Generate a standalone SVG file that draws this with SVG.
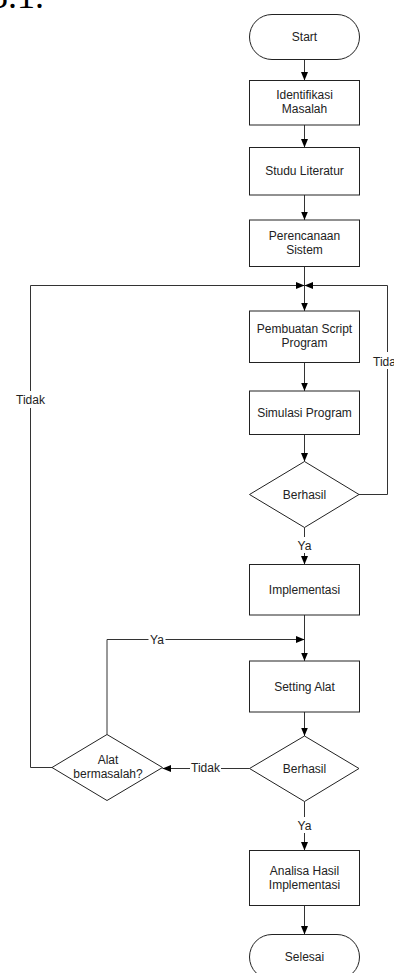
<svg xmlns="http://www.w3.org/2000/svg" width="394" height="973" viewBox="0 0 394 973">
<style>
.s{fill:#fff;stroke:#222;stroke-width:1}
.c{fill:none;stroke:#333;stroke-width:1}
.t{font-family:"Liberation Sans",Arial,sans-serif;font-size:12px;fill:#222;text-anchor:middle}
.bg{fill:#fff;stroke:none}
</style>
<defs>
<marker id="a" markerUnits="userSpaceOnUse" markerWidth="9" markerHeight="8" refX="8.5" refY="3.5" orient="auto">
<path d="M0,0 L8.5,3.5 L0,7 z" fill="#000"/>
</marker>
</defs>
<text x="-10" y="7.5" font-family="'Liberation Serif','Times New Roman',serif" font-size="36" fill="#000">3.1.</text>
<g id="connectors">
<path class="c" d="M304.5,59.5 V80.5" marker-end="url(#a)"/>
<path class="c" d="M304.5,125 V147.5" marker-end="url(#a)"/>
<path class="c" d="M304.5,195 V220" marker-end="url(#a)"/>
<path class="c" d="M304.5,266.5 V311" marker-end="url(#a)"/>
<path class="c" d="M304.5,362.5 V391" marker-end="url(#a)"/>
<path class="c" d="M304.5,434.5 V461.5" marker-end="url(#a)"/>
<path class="c" d="M359,494.5 H387.5 V285.5 H304.5" marker-end="url(#a)"/>
<path class="c" d="M304.5,527.5 V564.5" marker-end="url(#a)"/>
<path class="c" d="M304.5,615 V661" marker-end="url(#a)"/>
<path class="c" d="M304.5,712 V736" marker-end="url(#a)"/>
<path class="c" d="M249.5,768.5 H162.5" marker-end="url(#a)"/>
<path class="c" d="M107,734.5 V639.5 H304.5" marker-end="url(#a)"/>
<path class="c" d="M52,767.5 H30.5 V285.5 H304.5" marker-end="url(#a)"/>
<path class="c" d="M304.5,801.5 V850.5" marker-end="url(#a)"/>
<path class="c" d="M304.5,905.5 V934.5" marker-end="url(#a)"/>
<g id="labels">
<rect class="bg" x="372" y="352" width="31" height="17"/>
<text class="t" x="387.5" y="365.5">Tidak</text>
<rect class="bg" x="296" y="537" width="17" height="16"/>
<text class="t" x="304.5" y="550">Ya</text>
<rect class="bg" x="148.5" y="631" width="17" height="16"/>
<text class="t" x="157" y="643.5">Ya</text>
<rect class="bg" x="190" y="760" width="31" height="16"/>
<text class="t" x="205.5" y="772">Tidak</text>
<rect class="bg" x="15" y="391" width="31" height="17"/>
<text class="t" x="30.5" y="404">Tidak</text>
<rect class="bg" x="296" y="817" width="17" height="16"/>
<text class="t" x="304.5" y="830">Ya</text>
</g>
</g>
<g id="start">
<rect class="s" x="249.5" y="14.5" width="110" height="45" rx="22.5"/>
<text class="t" x="304.5" y="41">Start</text>
</g>
<g id="identifikasi">
<rect class="s" x="249.5" y="80.5" width="110" height="44.5"/>
<text class="t" x="304.5" y="99.25">Identifikasi</text>
<text class="t" x="304.5" y="113.25">Masalah</text>
</g>
<g id="studi">
<rect class="s" x="249.5" y="147.5" width="110" height="47.5"/>
<text class="t" x="304.5" y="175.25">Studu Literatur</text>
</g>
<g id="perencanaan">
<rect class="s" x="249.5" y="220" width="110" height="46.5"/>
<text class="t" x="304.5" y="239.75">Perencanaan</text>
<text class="t" x="304.5" y="253.75">Sistem</text>
</g>
<g id="pembuatan">
<rect class="s" x="249.5" y="311" width="110" height="51.5"/>
<text class="t" x="304.5" y="333.25">Pembuatan Script</text>
<text class="t" x="304.5" y="347.25">Program</text>
</g>
<g id="simulasi">
<rect class="s" x="249.5" y="391" width="110" height="43.5"/>
<text class="t" x="304.5" y="416.75">Simulasi Program</text>
</g>
<g id="berhasil1">
<polygon class="s" points="304.5,461.5 359,494.5 304.5,527.5 249.5,494.5"/>
<text class="t" x="304.5" y="498.5">Berhasil</text>
</g>
<g id="implementasi">
<rect class="s" x="249.5" y="564.5" width="110" height="50.5"/>
<text class="t" x="304.5" y="593.75">Implementasi</text>
</g>
<g id="setting">
<rect class="s" x="249.5" y="661" width="110" height="51"/>
<text class="t" x="304.5" y="690.5">Setting Alat</text>
</g>
<g id="berhasil2">
<polygon class="s" points="304.5,736 359,768.5 304.5,801.5 249.5,768.5"/>
<text class="t" x="304.5" y="772.75">Berhasil</text>
</g>
<g id="alat">
<polygon class="s" points="107,734.5 162.5,767.5 107,800.5 52,767.5"/>
<text class="t" x="108" y="764">Alat</text>
<text class="t" x="108" y="778">bermasalah?</text>
</g>
<g id="analisa">
<rect class="s" x="249.5" y="850.5" width="110" height="55"/>
<text class="t" x="304.5" y="874.5">Analisa Hasil</text>
<text class="t" x="304.5" y="888.5">Implementasi</text>
</g>
<g id="selesai">
<rect class="s" x="249.5" y="934.5" width="110" height="45" rx="22.5"/>
<text class="t" x="304.5" y="961">Selesai</text>
</g>
</svg>
